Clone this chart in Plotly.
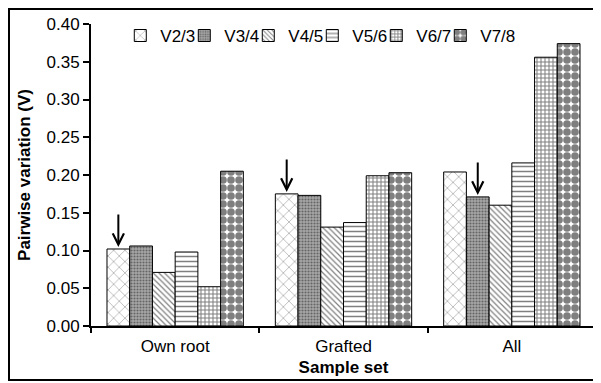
import plotly.graph_objects as go

# ---- data ----
categories = ["Own root", "Grafted", "All"]
series_names = ["V2/3", "V3/4", "V4/5", "V5/6", "V6/7", "V7/8"]
v23 = [0.102, 0.175, 0.204]
v34 = [0.106, 0.173, 0.171]
v45 = [0.071, 0.131, 0.160]
v56 = [0.098, 0.137, 0.216]
v67 = [0.052, 0.199, 0.356]
v78 = [0.205, 0.203, 0.374]
y_tick_vals = [0.00, 0.05, 0.10, 0.15, 0.20, 0.25, 0.30, 0.35, 0.40]
# arrows: (category index, series index)
arrow_marks = [(0, 0), (1, 0), (2, 1)]

series_values = [v23, v34, v45, v56, v67, v78]

# ---- styles ----
patterns = [
    dict(shape="x", size=8, solidity=0.12, fgcolor="black", bgcolor="white"),
    dict(shape=".", size=3, solidity=0.4, fgcolor="#222222", bgcolor="#a8a8a8"),
    dict(shape="\\", size=4, solidity=0.3, fgcolor="black", bgcolor="white"),
    dict(shape="-", size=5, solidity=0.3, fgcolor="black", bgcolor="white"),
    dict(shape="+", size=4, solidity=0.45, fgcolor="black", bgcolor="white"),
    dict(shape=".", size=8, solidity=0.72, fgcolor="black", bgcolor="white"),
]
FONT = "Arial, Liberation Sans, sans-serif"
bargap = 0.19

W, H = 593, 375
ML, MR, MT, MB = 83, 5, 16, 57
PW, PH = W - ML - MR, H - MT - MB

fig = go.Figure()
for name, vals, pat in zip(series_names, series_values, patterns):
    fig.add_trace(go.Bar(
        x=categories, y=vals, name=name,
        marker=dict(color="white", pattern=pat,
                    line=dict(color="black", width=1)),
    ))
# empty spacer entry so the last legend label is not clipped
fig.add_trace(go.Scatter(x=[None], y=[None], mode="markers", name=" ",
                         marker=dict(color="rgba(0,0,0,0)", size=1,
                                     line=dict(width=0)),
                         hoverinfo="skip"))

n = len(series_names)
bw = (1 - bargap) / n
annotations = []
for ci, si in arrow_marks:
    xpos = ci - (1 - bargap) / 2 + (si + 0.5) * bw
    annotations.append(dict(
        x=xpos, y=series_values[si][ci], xref="x", yref="y",
        ax=0, ay=-36, showarrow=True, arrowhead=5, arrowsize=1.1,
        arrowwidth=2, arrowcolor="black", standoff=2, text="",
    ))

# frame around the whole figure (pixel -> paper)
fx0, fx1, fy0, fy1 = 1, 590, 1, 372
frame = dict(type="rect", xref="paper", yref="paper",
             x0=(fx0 - ML) / PW, x1=(fx1 - ML) / PW,
             y0=(H - MB - fy1) / PH, y1=(H - MB - fy0) / PH,
             line=dict(color="black", width=2), fillcolor="rgba(0,0,0,0)")

fig.update_layout(
    width=W, height=H,
    margin=dict(l=ML, r=MR, t=MT, b=MB),
    paper_bgcolor="white", plot_bgcolor="white",
    font=dict(family=FONT, size=17, color="black"),
    barmode="group", bargap=bargap, bargroupgap=0,
    showlegend=True,
    legend=dict(orientation="h", x=0.058, y=1.02, xanchor="left", yanchor="top",
                bgcolor="rgba(0,0,0,0)", font=dict(size=17),
                entrywidth=19, tracegroupgap=0, itemwidth=30),
    annotations=annotations,
    shapes=[frame],
)
fig.update_xaxes(
    showline=True, linecolor="black", linewidth=2,
    ticks="outside", tickson="boundaries", ticklen=5, tickcolor="black", tickwidth=2,
    ticklabelstandoff=4,
    showgrid=False,
    title=dict(text="<b>Sample set</b>", font=dict(size=17), standoff=6),
)
fig.update_yaxes(
    range=[0, 0.40], tickvals=y_tick_vals, tickformat=".2f",
    showline=True, linecolor="black", linewidth=2,
    ticks="outside", ticklen=6, tickcolor="black", tickwidth=2,
    showgrid=False, zeroline=False,
    title=dict(text="<b>Pairwise variation (V)</b>", font=dict(size=17), standoff=12),
)

fig.write_html("out.html")
